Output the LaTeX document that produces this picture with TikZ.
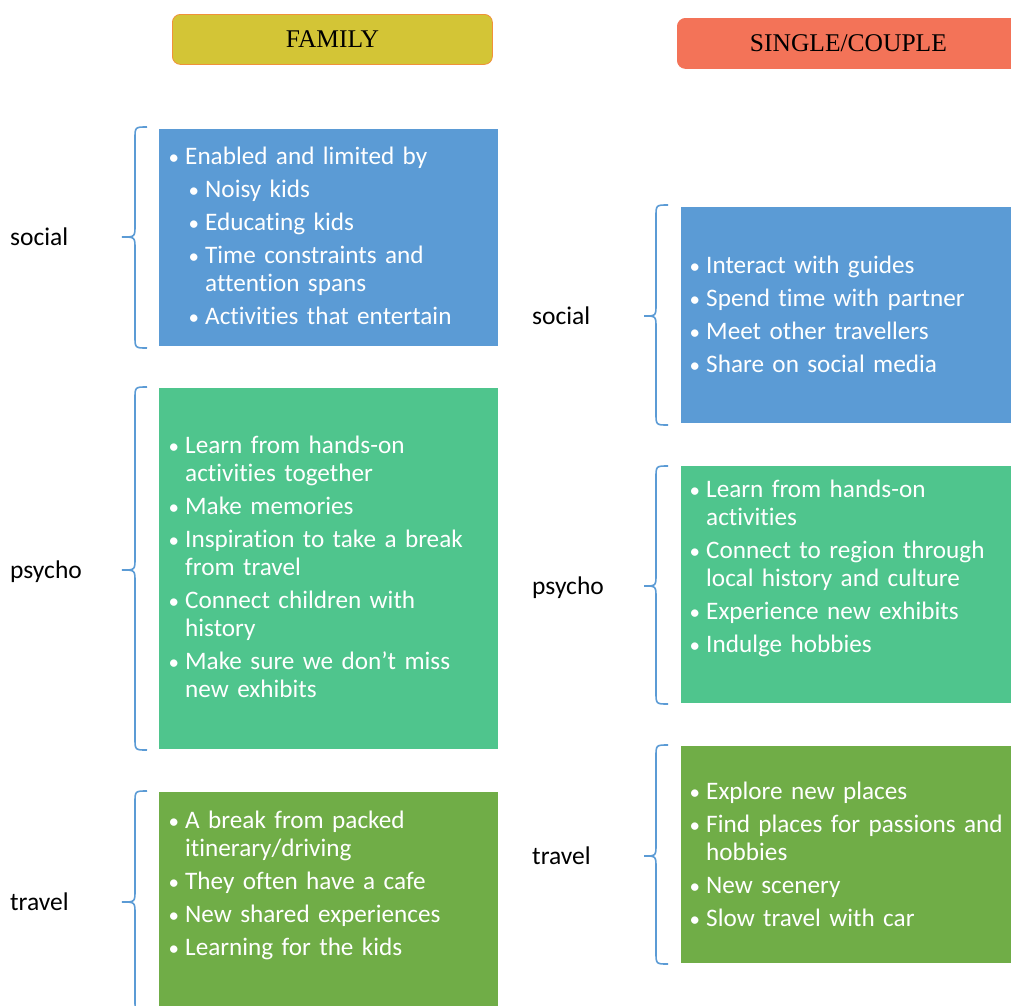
\documentclass[tikz,border=0pt]{standalone}
\usepackage{fontspec}
\setmainfont{Carlito}[Ligatures=NoCommon]
\newfontfamily\headfont{Liberation Serif}
\usetikzlibrary{positioning}

\definecolor{boxblue}{HTML}{5B9BD5}
\definecolor{boxmint}{HTML}{4FC58D}
\definecolor{boxgreen}{HTML}{70AD47}
\definecolor{famfill}{HTML}{D3C536}
\definecolor{famline}{HTML}{F0913A}
\definecolor{cplfill}{HTML}{F37358}

\newcommand{\dotmark}{\makebox[18pt][l]{\hspace{1.5pt}\fontsize{21}{21}\selectfont\textbullet}}
\newcommand{\bulletA}[1]{\noindent\hangindent=18pt\hangafter=1\dotmark#1\par}
\newcommand{\bulletB}[1]{\noindent\hangindent=38pt\hangafter=1\hspace*{20pt}\dotmark#1\par}

\begin{document}
\begin{tikzpicture}[x=1pt, y=-1pt,
    headbox/.style={rounded corners=8pt, draw=famline, line width=0.8pt, anchor=north west,
      minimum height=50pt, inner sep=0pt, font=\headfont\fontsize{25.5}{28}\selectfont},
    panel/.style={anchor=north west, inner sep=0pt, minimum width=350pt},
    itemlist/.style={text=white, anchor=base west, inner sep=0pt, text width=320pt, align=left,
      font=\fontsize{25.2}{28}\selectfont, execute at begin node=\setlength{\parskip}{5pt}},
    dimlabel/.style={anchor=base west, inner sep=0pt, font=\fontsize{25.5}{28}\selectfont},
    curly/.style={draw=boxblue, line width=1.6pt}]
  \useasboundingbox (0,0) rectangle (1011,1005);
  \clip (0,0) rectangle (1011,1005);

  % Headers
  \node[headbox, fill=famfill, minimum width=320pt] (famhead) at (172,14) {FAMILY};
  \node[headbox, fill=cplfill, draw=cplfill, minimum width=342pt] (cplhead) at (677,18) {SINGLE/COUPLE};

  % Family column
  \node[panel, fill=boxblue, minimum width=339pt, minimum height=217pt] (famsoc) at (159,129) {};
  \node[panel, fill=boxmint, minimum width=339pt, minimum height=361pt] (fampsy) at (159,388) {};
  \node[panel, fill=boxgreen, minimum width=339pt, minimum height=240pt] (famtrv) at (159,792) {};

  \node[itemlist] (famsoctxt) at (167,164) {%
    \bulletA{Enabled and limited by}
    \bulletB{Noisy kids}
    \bulletB{Educating kids}
    \bulletB{Time constraints and\newline attention spans}
    \bulletB{Activities that entertain}};
  \node[itemlist] (fampsytxt) at (167,453) {%
    \bulletA{Learn from hands-on\newline activities together}
    \bulletA{Make memories}
    \bulletA{Inspiration to take a break\newline from travel}
    \bulletA{Connect children with\newline history}
    \bulletA{Make sure we don’t miss\newline new exhibits}};
  \node[itemlist] (famtrvtxt) at (167,828) {%
    \bulletA{A break from packed\newline itinerary/driving}
    \bulletA{They often have a cafe}
    \bulletA{New shared experiences}
    \bulletA{Learning for the kids}};

  % Family braces
  \draw[curly] (147,127) .. controls (135,127) .. (135,139) -- (135,225) .. controls (135,237) .. (122,237)
    .. controls (135,237) .. (135,249) -- (135,336) .. controls (135,348) .. (147,348);
  \draw[curly] (147,387) .. controls (135,387) .. (135,399) -- (135,558) .. controls (135,570) .. (122,570)
    .. controls (135,570) .. (135,582) -- (135,738) .. controls (135,750) .. (147,750);
  \draw[curly] (147,791) .. controls (135,791) .. (135,803) -- (135,890) .. controls (135,902) .. (122,902)
    .. controls (135,902) .. (135,914) -- (135,1000) .. controls (135,1012) .. (147,1012);

  \node[dimlabel] (famsoclbl) at (10,245) {social};
  \node[dimlabel] (fampsylbl) at (10,578) {psycho};
  \node[dimlabel] (famtrvlbl) at (10,910) {travel};

  % Single/couple column
  \node[panel, fill=boxblue, minimum height=216pt] (cplsoc) at (681,207) {};
  \node[panel, fill=boxmint, minimum height=237pt] (cplpsy) at (681,466) {};
  \node[panel, fill=boxgreen, minimum height=217pt] (cpltrv) at (681,746) {};

  \node[itemlist] (cplsoctxt) at (688,273) {%
    \bulletA{Interact with guides}
    \bulletA{Spend time with partner}
    \bulletA{Meet other travellers}
    \bulletA{Share on social media}};
  \node[itemlist] (cplpsytxt) at (688,497) {%
    \bulletA{Learn from hands-on\newline activities}
    \bulletA{Connect to region through\newline local history and culture}
    \bulletA{Experience new exhibits}
    \bulletA{Indulge hobbies}};
  \node[itemlist] (cpltrvtxt) at (688,799) {%
    \bulletA{Explore new places}
    \bulletA{Find places for passions and\newline hobbies}
    \bulletA{New scenery}
    \bulletA{Slow travel with car}};

  % Single/couple braces
  \draw[curly] (668,205) .. controls (656,205) .. (656,217) -- (656,304) .. controls (656,316) .. (644,316)
    .. controls (656,316) .. (656,328) -- (656,413) .. controls (656,425) .. (668,425);
  \draw[curly] (668,466) .. controls (656,466) .. (656,478) -- (656,574) .. controls (656,586) .. (644,586)
    .. controls (656,586) .. (656,598) -- (656,692) .. controls (656,704) .. (668,704);
  \draw[curly] (668,745) .. controls (656,745) .. (656,757) -- (656,844) .. controls (656,856) .. (644,856)
    .. controls (656,856) .. (656,868) -- (656,952) .. controls (656,964) .. (668,964);

  \node[dimlabel] (cplsoclbl) at (532,324) {social};
  \node[dimlabel] (cplpsylbl) at (532,594) {psycho};
  \node[dimlabel] (cpltrvlbl) at (532,864) {travel};
\end{tikzpicture}
\end{document}
